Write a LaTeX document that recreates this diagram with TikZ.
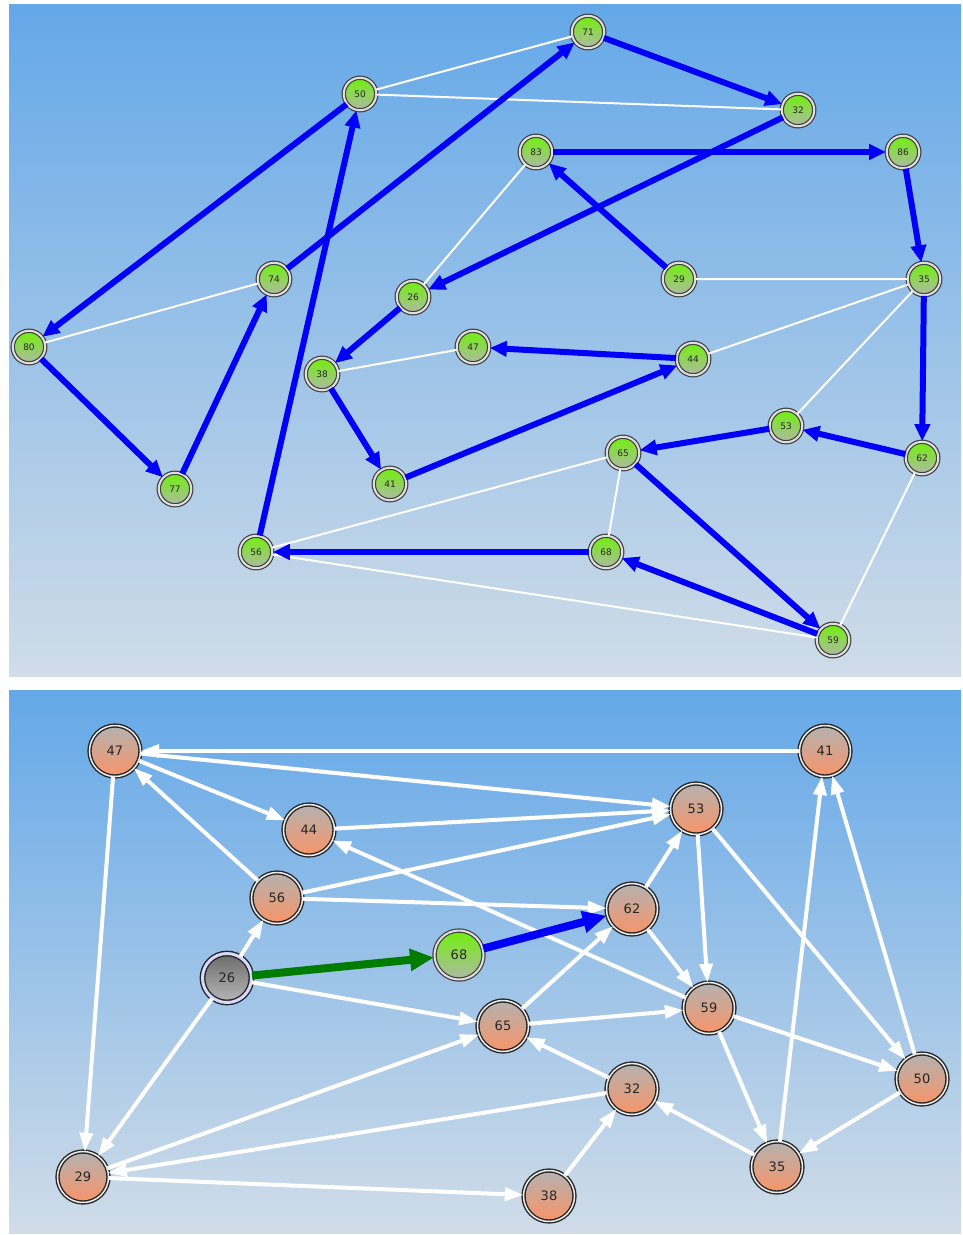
\documentclass[tikz,border=0pt]{standalone}
\usepackage{fontspec}
\setmainfont{DejaVu Sans}
\usetikzlibrary{arrows.meta}
\definecolor{skytop}{RGB}{100,168,232}
\definecolor{skybot}{RGB}{208,220,232}
\definecolor{lime}{RGB}{112,240,10}
\definecolor{limegray}{RGB}{176,184,168}
\definecolor{peach}{RGB}{248,148,104}
\definecolor{ash}{RGB}{180,178,176}
\definecolor{pureblue}{RGB}{0,0,250}
\definecolor{darkgreen}{RGB}{0,125,0}
\begin{document}
\begin{tikzpicture}[x=1pt,y=-1pt,
gnode/.style={circle,inner sep=0,minimum size=32.5pt,top color=lime,bottom color=limegray,draw=black!75,double=white!75!gray,double distance=2pt,line width=1.2pt,font=\fontsize{9}{10}\selectfont,text=black!85},
onode/.style={circle,inner sep=0,minimum size=51pt,top color=ash,bottom color=peach,draw=black!85,double=white!85!gray,double distance=1.5pt,line width=1.4pt,font=\fontsize{13}{15}\selectfont,text=black!85},
knode/.style={onode,top color=black!58,bottom color=black!28,double=white!85!blue,double distance=3pt,minimum size=49pt},
barc/.style={color=pureblue,line width=6pt,-{Triangle[length=17pt,width=15pt]}},
wline/.style={color=white,line width=2pt},
warc/.style={color=white,line width=4pt,-{Triangle[length=18pt,width=14pt,line width=0.5pt,fill=white]}}]
\useasboundingbox (0,0) rectangle (962,1235);
% upper graph
\shade[top color=skytop,bottom color=skybot] (9,4) rectangle (961,676);
\node[gnode] (A71) at (588,32) {71};
\node[gnode] (A50) at (360,94) {50};
\node[gnode] (A32) at (798,110) {32};
\node[gnode] (A83) at (536,152) {83};
\node[gnode] (A86) at (903,152) {86};
\node[gnode] (A74) at (274,279) {74};
\node[gnode] (A29) at (679,279) {29};
\node[gnode] (A35) at (924,279) {35};
\node[gnode] (A26) at (413,297) {26};
\node[gnode] (A80) at (29,347) {80};
\node[gnode] (A47) at (473,347) {47};
\node[gnode] (A44) at (693,359) {44};
\node[gnode] (A38) at (322,374) {38};
\node[gnode] (A53) at (786,426) {53};
\node[gnode] (A65) at (623,453) {65};
\node[gnode] (A62) at (922,458) {62};
\node[gnode] (A41) at (390,484) {41};
\node[gnode] (A77) at (175,489) {77};
\node[gnode] (A56) at (256,552) {56};
\node[gnode] (A68) at (606,552) {68};
\node[gnode] (A59) at (833,640) {59};
\draw[wline] (A50)--(A71) (A50)--(A32) (A80)--(A74) (A83)--(A26) (A29)--(A35) (A38)--(A47)
(A44)--(A35)--(A53) (A56)--(A65)--(A68) (A56)--(A59)--(A62);
\foreach \s/\t in {50/80,80/77,77/74,74/71,71/32,32/26,26/38,38/41,41/44,44/47,
56/50,83/86,86/35,29/83,35/62,62/53,53/65,65/59,59/68,68/56}
\draw[barc] (A\s)--(A\t);
% lower graph
\shade[top color=skytop,bottom color=skybot] (9,690) rectangle (961,1233);
\node[onode] (B47) at (115,751) {47};
\node[onode] (B41) at (825,751) {41};
\node[onode] (B53) at (696,809) {53};
\node[onode] (B44) at (309,830) {44};
\node[onode] (B56) at (277,898) {56};
\node[onode] (B62) at (632,909) {62};
\node[gnode,minimum size=49pt,font=\fontsize{13}{15}\selectfont] (B68) at (459,955) {68};
\node[knode] (B26) at (227,978) {26};
\node[onode] (B59) at (709,1008) {59};
\node[onode] (B65) at (503,1026) {65};
\node[onode] (B50) at (922,1079) {50};
\node[onode] (B32) at (632,1089) {32};
\node[onode] (B35) at (777,1167) {35};
\node[onode] (B29) at (83,1177) {29};
\node[onode] (B38) at (549,1196) {38};
\foreach \s/\t in {41/47,47/53,47/44,56/47,47/29,44/53,56/53,56/62,59/44,26/56,
26/65,26/29,29/65,32/29,29/38,38/32,32/65,65/62,65/59,62/53,
62/59,53/59,53/50,59/50,59/35,35/32,35/41,50/41,50/35}
\draw[warc] (B\s)--(B\t);
\draw[color=darkgreen,line width=8pt,-{Triangle[length=24pt,width=21pt]}] (B26)--(B68);
\draw[color=pureblue,line width=8pt,-{Triangle[length=24pt,width=21pt]}] (B68)--(B62);
\end{tikzpicture}
\end{document}
